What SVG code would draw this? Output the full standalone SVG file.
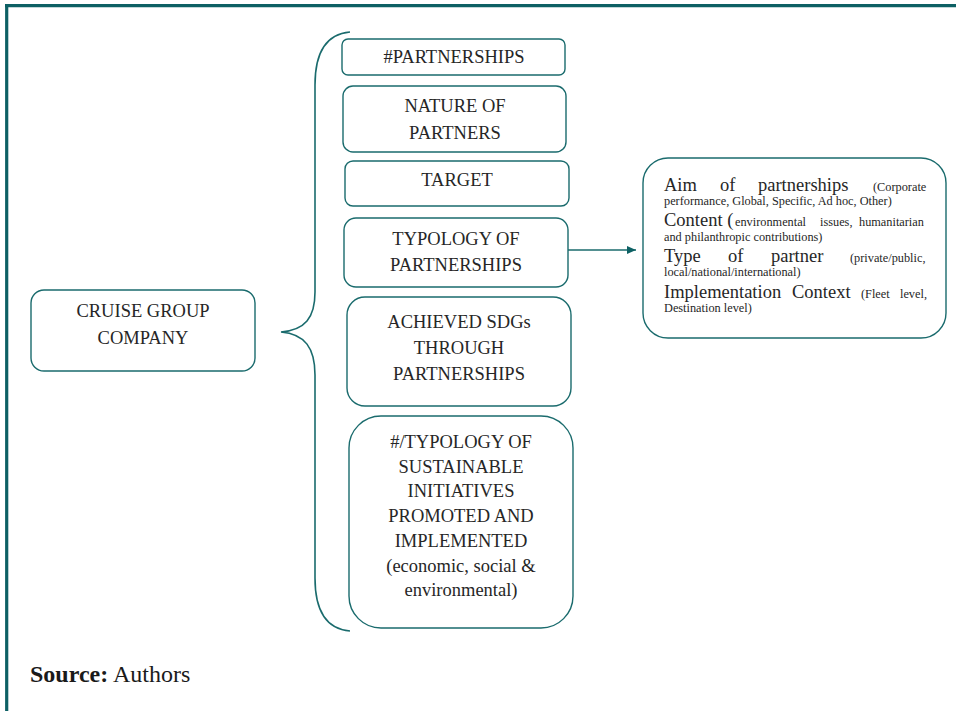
<svg xmlns="http://www.w3.org/2000/svg" width="956" height="711" viewBox="0 0 956 711">
<style>
.box{fill:#fff;stroke:#1a6b6d;stroke-width:1.4}
.t{font-family:"Liberation Serif","Times New Roman",serif;font-size:18.5px;fill:#262626;text-anchor:middle}
.r{font-family:"Liberation Serif","Times New Roman",serif;font-size:18.5px;fill:#262626}
.s{font-family:"Liberation Serif","Times New Roman",serif;font-size:12.3px;fill:#262626}
.frame{stroke:#0d6064;stroke-width:3.2;fill:none}
.conn{stroke:#1a6b6d;stroke-width:1.6;fill:none}
</style>
<defs>
<marker id="ah" markerWidth="10" markerHeight="10" refX="9" refY="5" orient="auto" markerUnits="userSpaceOnUse">
<path d="M0,1 L9,5 L0,9 Z" fill="#0d6064"/>
</marker>
</defs>
<rect width="956" height="711" fill="#fff"/>
<g id="frame">
<line class="frame" x1="5" y1="5.7" x2="956" y2="5.7"/>
<line class="frame" x1="6.7" y1="4" x2="6.7" y2="711"/>
</g>
<g id="connectors">
<path class="conn" d="M350,32 C326,34 315,52 315,85 L315,292 C315,318 305,330 281,332 C305,334 315,348 315,375 L315,578 C315,610 326,629 350,631"/>
<line class="conn" x1="568" y1="250" x2="636" y2="250" marker-end="url(#ah)"/>
</g>
<g id="cruise">
<rect class="box" x="31" y="290" width="224" height="81" rx="13"/>
<text class="t" x="143" y="317">CRUISE GROUP</text>
<text class="t" x="143" y="344">COMPANY</text>
</g>
<g id="partnerships">
<rect class="box" x="342" y="39" width="223" height="36" rx="6"/>
<text class="t" x="454" y="63">#PARTNERSHIPS</text>
</g>
<g id="nature">
<rect class="box" x="343" y="86" width="223" height="66" rx="10"/>
<text class="t" x="455" y="112">NATURE OF</text>
<text class="t" x="455" y="139">PARTNERS</text>
</g>
<g id="target">
<rect class="box" x="345" y="161" width="224" height="45" rx="8"/>
<text class="t" x="457" y="186">TARGET</text>
</g>
<g id="typology">
<rect class="box" x="344" y="218" width="224" height="69" rx="12"/>
<text class="t" x="456" y="245">TYPOLOGY OF</text>
<text class="t" x="456" y="271">PARTNERSHIPS</text>
</g>
<g id="sdgs">
<rect class="box" x="347" y="297" width="224" height="109" rx="18"/>
<text class="t" x="459" y="328">ACHIEVED SDGs</text>
<text class="t" x="459" y="354">THROUGH</text>
<text class="t" x="459" y="380">PARTNERSHIPS</text>
</g>
<g id="initiatives">
<rect class="box" x="349" y="416" width="224" height="212" rx="32"/>
<text class="t" x="461" y="448">#/TYPOLOGY OF</text>
<text class="t" x="461" y="473">SUSTAINABLE</text>
<text class="t" x="461" y="497">INITIATIVES</text>
<text class="t" x="461" y="522">PROMOTED AND</text>
<text class="t" x="461" y="547">IMPLEMENTED</text>
<text class="t" x="461" y="572">(economic, social &amp;</text>
<text class="t" x="461" y="596">environmental)</text>
</g>
<g id="details">
<rect class="box" x="643" y="158" width="303" height="180" rx="25"/>
<text class="r" x="664" y="191">Aim</text>
<text class="r" x="720" y="191">of</text>
<text class="r" x="758" y="191">partnerships</text>
<text class="s" x="873" y="191">(Corporate</text>
<text class="s" x="664" y="205">performance, Global, Specific, Ad hoc, Other)</text>
<text class="r" x="664" y="226">Content (</text>
<text class="s" x="735" y="226">environmental</text>
<text class="s" x="820" y="226">issues,</text>
<text class="s" x="859" y="226">humanitarian</text>
<text class="s" x="664" y="241">and philanthropic contributions)</text>
<text class="r" x="664" y="262">Type</text>
<text class="r" x="728" y="262">of</text>
<text class="r" x="771" y="262">partner</text>
<text class="s" x="850" y="262">(private/public,</text>
<text class="s" x="664" y="276">local/national/international)</text>
<text class="r" x="664" y="298">Implementation</text>
<text class="r" x="792" y="298">Context</text>
<text class="s" x="861" y="298">(Fleet</text>
<text class="s" x="900" y="298">level,</text>
<text class="s" x="664" y="312">Destination level)</text>
</g>
<g id="source">
<text x="30" y="682" style="font-family:'Liberation Serif','Times New Roman',serif;font-size:24px;fill:#1a1a1a"><tspan font-weight="bold">Source:</tspan> Authors</text>
</g>
</svg>
